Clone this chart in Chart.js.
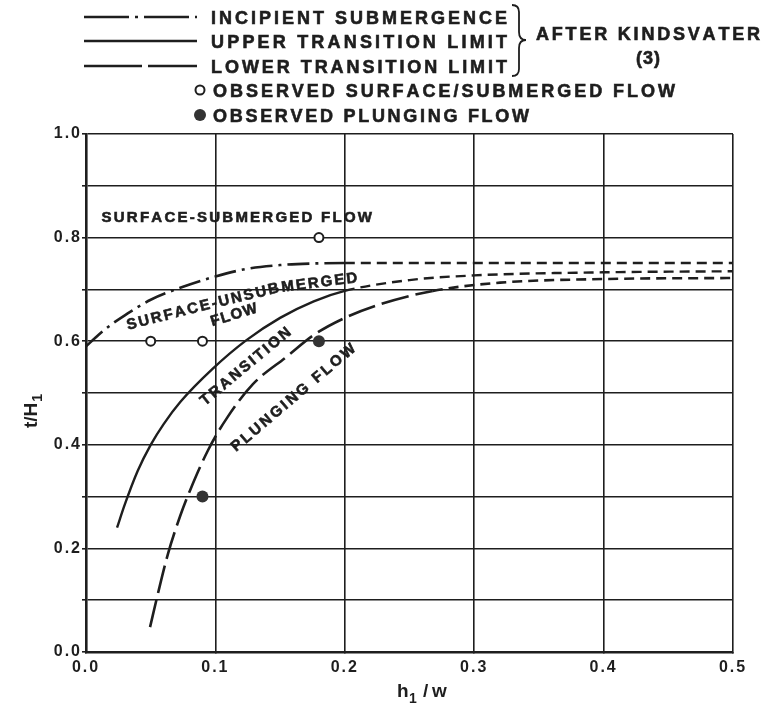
<!DOCTYPE html>
<html>
<head>
<meta charset="utf-8">
<script src="https://cdn.jsdelivr.net/npm/chart.js@4.4.1/dist/chart.umd.min.js"></script>
<style>
  body { margin: 0; background: #fff; }
  canvas { display: block; }
</style>
</head>
<body>
<canvas id="flowChart" width="763" height="716"></canvas>
<script>
const FONT = '"Liberation Sans", Arial, sans-serif';
const INK = '#1e1e1e';

// Kindsvater limits, h1/w against t/H1
const incipientX = [0, 0.01, 0.02, 0.03, 0.05, 0.075, 0.1, 0.125, 0.15, 0.175, 0.2, 0.3, 0.4, 0.5];
const incipientY = [0.59, 0.613, 0.633, 0.65, 0.68, 0.705, 0.725, 0.74, 0.747, 0.75, 0.751, 0.751, 0.751, 0.751];

const upperX = [0.024, 0.03, 0.04, 0.05, 0.06, 0.073, 0.098, 0.124, 0.15, 0.176, 0.2, 0.25, 0.3, 0.4, 0.5];
const upperY = [0.24, 0.285, 0.35, 0.4, 0.44, 0.483, 0.547, 0.602, 0.645, 0.677, 0.697, 0.718, 0.727, 0.733, 0.735];

const lowerX = [0.0495, 0.0557, 0.0634, 0.0727, 0.0804, 0.0944, 0.109, 0.129, 0.155, 0.176, 0.2, 0.227, 0.268, 0.32, 0.4, 0.5];
const lowerY = [0.048, 0.114, 0.19, 0.262, 0.312, 0.39, 0.452, 0.517, 0.57, 0.612, 0.645, 0.671, 0.697, 0.713, 0.72, 0.722];

// observations
const surfaceX = [0.05, 0.09, 0.18];
const surfaceY = [0.6, 0.6, 0.8];
const plungingX = [0.09, 0.18];
const plungingY = [0.3, 0.6];

const xTicks = [0, 0.1, 0.2, 0.3, 0.4, 0.5];

// region labels, baseline paths in data units
const regionLabels = [
  { text: 'SURFACE-SUBMERGED FLOW', path: [[0.012, 0.83], [0.221, 0.83]] },
  { text: 'SURFACE-UNSUBMERGED', path: [[0.0325, 0.622], [0.092, 0.660], [0.150, 0.695], [0.210, 0.714]] },
  { text: 'FLOW', path: [[0.0975, 0.629], [0.133, 0.656]] },
  { text: 'TRANSITION', path: [[0.092, 0.475], [0.159, 0.614]] },
  { text: 'PLUNGING FLOW', path: [[0.116, 0.386], [0.209, 0.583]] }
];

const zip = (xs, ys) => xs.map((x, i) => ({ x: x, y: ys[i] }));

// draw text char by char along a polyline, spread to fill its length
function textAlongPath(ctx, text, pts) {
  const segs = [];
  let total = 0;
  for (let i = 1; i < pts.length; i++) {
    const dx = pts[i][0] - pts[i - 1][0], dy = pts[i][1] - pts[i - 1][1];
    const len = Math.hypot(dx, dy);
    segs.push({ start: total, len: len, p: pts[i - 1], ang: Math.atan2(dy, dx) });
    total += len;
  }
  const widths = [...text].map(ch => ctx.measureText(ch).width);
  const sum = widths.reduce((a, b) => a + b, 0);
  const gap = (total - sum) / Math.max(text.length - 1, 1);
  let d = 0;
  [...text].forEach((ch, i) => {
    const mid = d + widths[i] / 2;
    let s = segs[segs.length - 1];
    for (const sg of segs) { if (mid <= sg.start + sg.len) { s = sg; break; } }
    const t = mid - s.start;
    const x = s.p[0] + Math.cos(s.ang) * t;
    const y = s.p[1] + Math.sin(s.ang) * t;
    ctx.save();
    ctx.translate(x, y);
    ctx.rotate(s.ang);
    ctx.textAlign = 'center';
    ctx.textBaseline = 'alphabetic';
    ctx.fillText(ch, 0, 0);
    ctx.lineWidth = 0.6;
    ctx.strokeText(ch, 0, 0);
    ctx.restore();
    d += widths[i] + gap;
  });
}

function spacedText(ctx, text, x, y, width) {
  textAlongPath(ctx, text, [[x, y], [x + width, y]]);
}

const overlay = {
  id: 'overlay',
  beforeDraw(chart) {
    // wider tracking for the tick numbers
    chart.ctx.letterSpacing = '2px';
  },
  afterDraw(chart) {
    const ctx = chart.ctx;
    const xs = chart.scales.x, ys = chart.scales.y;
    ctx.letterSpacing = '0px';
    ctx.save();
    ctx.fillStyle = INK;
    ctx.strokeStyle = INK;

    // region labels
    ctx.font = 'bold 15px ' + FONT;
    regionLabels.forEach(lab => {
      const pts = lab.path.map(p => [xs.getPixelForValue(p[0]), ys.getPixelForValue(p[1])]);
      textAlongPath(ctx, lab.text, pts);
    });

    // axis titles
    ctx.font = 'bold 19px ' + FONT;
    ctx.save();
    ctx.translate(37, 405);
    ctx.rotate(-Math.PI / 2);
    ctx.textAlign = 'left';
    ctx.textBaseline = 'alphabetic';
    ctx.fillText('t/H', -23, 0);
    const wt = ctx.measureText('t/H').width;
    ctx.font = 'bold 14px ' + FONT;
    ctx.fillText('1', -23 + wt + 1, 5);
    ctx.restore();

    ctx.font = 'bold 19px ' + FONT;
    ctx.textAlign = 'left';
    ctx.fillText('h', 397, 697);
    ctx.font = 'bold 14px ' + FONT;
    ctx.fillText('1', 409, 703);
    ctx.font = 'bold 19px ' + FONT;
    ctx.fillText('/', 423, 697);
    ctx.fillText('w', 432, 697);

    // legend
    ctx.lineWidth = 2.5;
    const sample = (y, dash) => {
      ctx.setLineDash(dash);
      ctx.beginPath();
      ctx.moveTo(84, y);
      ctx.lineTo(197, y);
      ctx.stroke();
    };
    sample(17, [45, 6, 3, 6]);
    sample(41, []);
    sample(66, [58, 6]);
    ctx.setLineDash([]);

    ctx.font = 'bold 18px ' + FONT;
    spacedText(ctx, 'INCIPIENT SUBMERGENCE', 211, 24, 296);
    spacedText(ctx, 'UPPER TRANSITION LIMIT', 211, 48, 296);
    spacedText(ctx, 'LOWER TRANSITION LIMIT', 211, 73, 296);
    spacedText(ctx, 'AFTER KINDSVATER', 536, 40, 224);
    spacedText(ctx, '(3)', 636, 64, 24);
    spacedText(ctx, 'OBSERVED SURFACE/SUBMERGED FLOW', 213, 97, 462);
    spacedText(ctx, 'OBSERVED PLUNGING FLOW', 213, 122, 316);

    // brace
    ctx.lineWidth = 1.8;
    ctx.beginPath();
    ctx.moveTo(512, 5);
    ctx.quadraticCurveTo(519, 5, 519, 12);
    ctx.lineTo(519, 32);
    ctx.quadraticCurveTo(519, 40, 526, 40);
    ctx.quadraticCurveTo(519, 40, 519, 48);
    ctx.lineTo(519, 69);
    ctx.quadraticCurveTo(519, 76, 512, 76);
    ctx.stroke();

    // legend markers
    ctx.lineWidth = 2;
    ctx.beginPath();
    ctx.arc(200, 90, 4.5, 0, Math.PI * 2);
    ctx.stroke();
    ctx.fillStyle = '#333';
    ctx.beginPath();
    ctx.arc(200, 115, 6, 0, Math.PI * 2);
    ctx.fill();
    ctx.restore();
  }
};

new Chart(document.getElementById('flowChart'), {
  type: 'line',
  data: {
    datasets: [
      {
        label: 'INCIPIENT SUBMERGENCE',
        data: zip(incipientX, incipientY),
        borderColor: INK, borderWidth: 2.6, pointRadius: 0,
        cubicInterpolationMode: 'monotone',
        segment: { borderDash: c => c.p0.parsed.x >= 0.2 ? [10, 6] : [22, 6, 3, 6] }
      },
      {
        label: 'UPPER TRANSITION LIMIT',
        data: zip(upperX, upperY),
        borderColor: INK, borderWidth: 2.4, pointRadius: 0,
        cubicInterpolationMode: 'monotone',
        segment: { borderDash: c => c.p0.parsed.x >= 0.2 ? [10, 6] : [] }
      },
      {
        label: 'LOWER TRANSITION LIMIT',
        data: zip(lowerX, lowerY),
        borderColor: INK, borderWidth: 2.6, pointRadius: 0,
        cubicInterpolationMode: 'monotone',
        segment: { borderDash: c => c.p0.parsed.x >= 0.25 ? [10, 6] : [28, 7] }
      },
      {
        label: 'OBSERVED SURFACE/SUBMERGED FLOW',
        data: zip(surfaceX, surfaceY),
        showLine: false,
        pointRadius: 4.5, pointBorderWidth: 2,
        pointBorderColor: INK, pointBackgroundColor: '#fff'
      },
      {
        label: 'OBSERVED PLUNGING FLOW',
        data: zip(plungingX, plungingY),
        showLine: false,
        pointRadius: 6, pointBorderWidth: 0,
        pointBackgroundColor: '#333'
      }
    ]
  },
  options: {
    responsive: false,
    animation: false,
    layout: { padding: { top: 134, right: 30, left: 0, bottom: 0 } },
    plugins: { legend: { display: false }, tooltip: { enabled: false } },
    scales: {
      x: {
        type: 'linear', min: 0, max: 0.5,
        afterBuildTicks: s => { s.ticks = xTicks.map(v => ({ value: v })); },
        afterFit: s => { s.height = 64; },
        ticks: {
          callback: v => v.toFixed(1),
          color: INK, padding: 6,
          font: { family: FONT, size: 16, weight: 'bold' }
        },
        grid: { color: INK, lineWidth: 1.6, tickLength: 0 },
        border: { color: INK, width: 2.6 }
      },
      y: {
        min: 0, max: 1,
        ticks: {
          stepSize: 0.1,
          callback: v => Math.round(v * 10) % 2 === 0 ? v.toFixed(1) : '',
          color: INK, padding: 0,
          font: { family: FONT, size: 16, weight: 'bold' }
        },
        afterFit: s => { s.width = 86; },
        grid: { color: INK, lineWidth: 1.6, tickLength: 4 },
        border: { color: INK, width: 2.6 }
      }
    }
  },
  plugins: [overlay]
});
</script>
</body>
</html>
